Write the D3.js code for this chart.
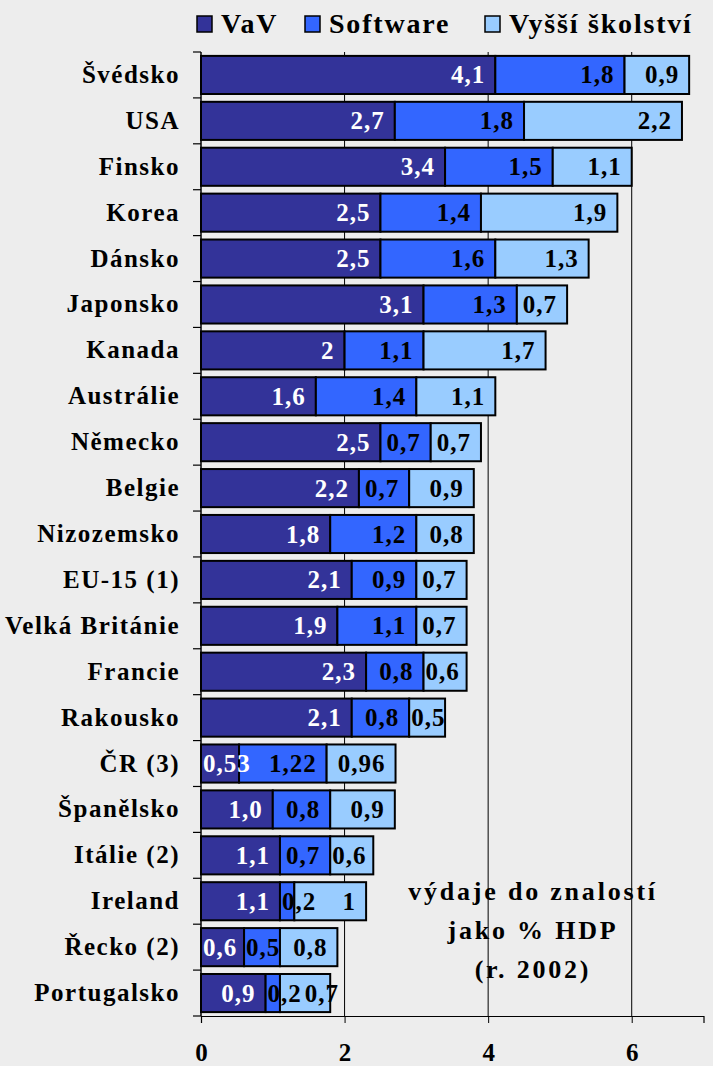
<!DOCTYPE html>
<html>
<head>
<meta charset="utf-8">
<script src="https://cdn.jsdelivr.net/npm/d3@7"></script>
<style>
  body { margin: 0; background: #ededed; }
  #container { width: 713px; height: 1066px; }
  svg text {
    font-family: 'Liberation Serif', Tinos, 'Times New Roman', Times, 'Nimbus Roman', serif;
    font-weight: bold;
  }
</style>
</head>
<body>
<div id="container"></div>
<script>
// countries, top to bottom
const countries = [
  'Švédsko', 'USA', 'Finsko', 'Korea ', 'Dánsko', 'Japonsko', 'Kanada',
  'Austrálie', 'Německo', 'Belgie', 'Nizozemsko', 'EU-15 (1)',
  'Velká Británie', 'Francie', 'Rakousko', 'ČR (3)', 'Španělsko',
  'Itálie (2)', 'Ireland', 'Řecko (2)', 'Portugalsko'
];

// values as printed in the chart (decimal comma)
const vav = ['4,1', '2,7', '3,4', '2,5', '2,5', '3,1', '2', '1,6', '2,5', '2,2',
  '1,8', '2,1', '1,9', '2,3', '2,1', '0,53', '1,0', '1,1', '1,1', '0,6', '0,9'];
const software = ['1,8', '1,8', '1,5', '1,4', '1,6', '1,3', '1,1', '1,4', '0,7', '0,7',
  '1,2', '0,9', '1,1', '0,8', '0,8', '1,22', '0,8', '0,7', '0,2', '0,5', '0,2'];
const skolstvi = ['0,9', '2,2', '1,1', '1,9', '1,3', '0,7', '1,7', '1,1', '0,7', '0,9',
  '0,8', '0,7', '0,7', '0,6', '0,5', '0,96', '0,9', '0,6', '1', '0,8', '0,7'];

const seriesNames = ['VaV', 'Software', 'Vyšší školství'];
const xTicks = [0, 2, 4, 6];
const note = ['výdaje do znalostí', 'jako % HDP', '(r. 2002)'];

const colors = ['#333399', '#3366ff', '#99ccff'];
const labelColors = ['#ffffff', '#000000', '#000000'];

let svg,
  xScale,
  yScale,
  svgWidth = 713,
  svgHeight = 1066,
  plotLeft = 201,
  plotTop = 52,
  plotBottom = 1016;

const num = (s) => +s.replace(',', '.');

const init = () => {
  svg = d3
    .select('#container')
    .append('svg')
    .attr('width', svgWidth)
    .attr('height', svgHeight);

  svg.append('rect')
    .attr('width', svgWidth)
    .attr('height', svgHeight)
    .attr('fill', '#ededed');

  xScale = d3.scaleLinear().domain([0, 7]).range([plotLeft, 703.5]);
  yScale = d3
    .scaleBand()
    .domain(countries)
    .range([plotTop, plotBottom])
    .paddingInner(0.17)
    .paddingOuter(0.085);

  drawAxes();
  drawBars();
  drawLegend();
  drawNote();
};

const drawAxes = () => {
  // vertical gridlines
  svg
    .selectAll('.grid')
    .data(xTicks.filter((d) => d > 0))
    .enter()
    .append('line')
    .attr('x1', (d) => xScale(d))
    .attr('x2', (d) => xScale(d))
    .attr('y1', plotTop)
    .attr('y2', plotBottom)
    .attr('stroke', '#000')
    .attr('stroke-width', 1);

  const xAxis = d3
    .axisBottom(xScale)
    .tickValues(xTicks)
    .tickFormat(d3.format('d'))
    .tickSize(7)
    .tickPadding(20);
  const gx = svg
    .append('g')
    .attr('transform', `translate(0,${plotBottom})`)
    .call(xAxis);
  gx.select('.domain').attr('stroke', '#000').attr('stroke-width', 1.2);
  gx.selectAll('text').attr('font-size', 25).attr('fill', '#000');

  // y axis line + ticks on band boundaries
  svg
    .append('line')
    .attr('x1', plotLeft)
    .attr('x2', plotLeft)
    .attr('y1', plotTop)
    .attr('y2', plotBottom)
    .attr('stroke', '#000')
    .attr('stroke-width', 1.5);

  const bounds = d3.range(countries.length + 1).map((i) => plotTop + i * yScale.step());
  svg
    .selectAll('.ytick')
    .data(bounds)
    .enter()
    .append('line')
    .attr('x1', plotLeft - 8)
    .attr('x2', plotLeft)
    .attr('y1', (d) => d)
    .attr('y2', (d) => d)
    .attr('stroke', '#000')
    .attr('stroke-width', 1.2);

  svg
    .selectAll('.cat')
    .data(countries)
    .enter()
    .append('text')
    .attr('x', 180)
    .attr('y', (d) => yScale(d) + yScale.bandwidth() / 2 + 8)
    .attr('text-anchor', 'end')
    .attr('font-size', 25)
    .attr('letter-spacing', 1.5)
    .attr('fill', '#000')
    .text((d) => d);
};

const drawBars = () => {
  const rows = countries.map((c, i) => {
    const vals = [vav[i], software[i], skolstvi[i]];
    let acc = 0;
    return vals.map((v, k) => {
      const seg = { country: c, k, label: v, x0: acc, x1: acc + num(v) };
      acc = seg.x1;
      return seg;
    });
  });

  svg
    .selectAll('.bar')
    .data(rows.flat())
    .enter()
    .append('rect')
    .attr('x', (d) => xScale(d.x0))
    .attr('y', (d) => yScale(d.country))
    .attr('width', (d) => xScale(d.x1) - xScale(d.x0))
    .attr('height', yScale.bandwidth())
    .attr('fill', (d) => colors[d.k])
    .attr('stroke', '#000')
    .attr('stroke-width', 2);

  // labels at the inside end; pushed right when the segment is too narrow
  // or when the label before would be hit
  rows.forEach((row) => {
    let prevEnd = -Infinity;
    row.forEach((d) => {
      const t = svg
        .append('text')
        .attr('y', yScale(d.country) + yScale.bandwidth() / 2 + 8.5)
        .attr('font-size', 25)
        .attr('letter-spacing', 1)
        .attr('fill', labelColors[d.k])
        .text(d.label);
      const w = t.node().getComputedTextLength();
      const start = Math.max(xScale(d.x1) - 10 - w, xScale(d.x0) + 2, prevEnd + 3);
      t.attr('x', start);
      prevEnd = start + w;
    });
  });
};

const drawLegend = () => {
  const pos = [197, 305, 485];
  const g = svg.append('g');
  g.selectAll('rect')
    .data(seriesNames)
    .enter()
    .append('rect')
    .attr('x', (d, i) => pos[i])
    .attr('y', 16)
    .attr('width', 15)
    .attr('height', 16)
    .attr('fill', (d, i) => colors[i])
    .attr('stroke', '#000')
    .attr('stroke-width', 1.5);
  g.selectAll('text')
    .data(seriesNames)
    .enter()
    .append('text')
    .attr('x', (d, i) => pos[i] + 24)
    .attr('y', 33)
    .attr('font-size', 28)
    .attr('letter-spacing', 1.8)
    .attr('fill', '#000')
    .text((d) => d);
};

const drawNote = () => {
  svg
    .selectAll('.note')
    .data(note)
    .enter()
    .append('text')
    .attr('x', 533)
    .attr('y', (d, i) => 900 + i * 39)
    .attr('text-anchor', 'middle')
    .attr('font-size', 26)
    .attr('letter-spacing', 2.8)
    .attr('fill', '#000')
    .text((d) => d);
};

init();
</script>
</body>
</html>
